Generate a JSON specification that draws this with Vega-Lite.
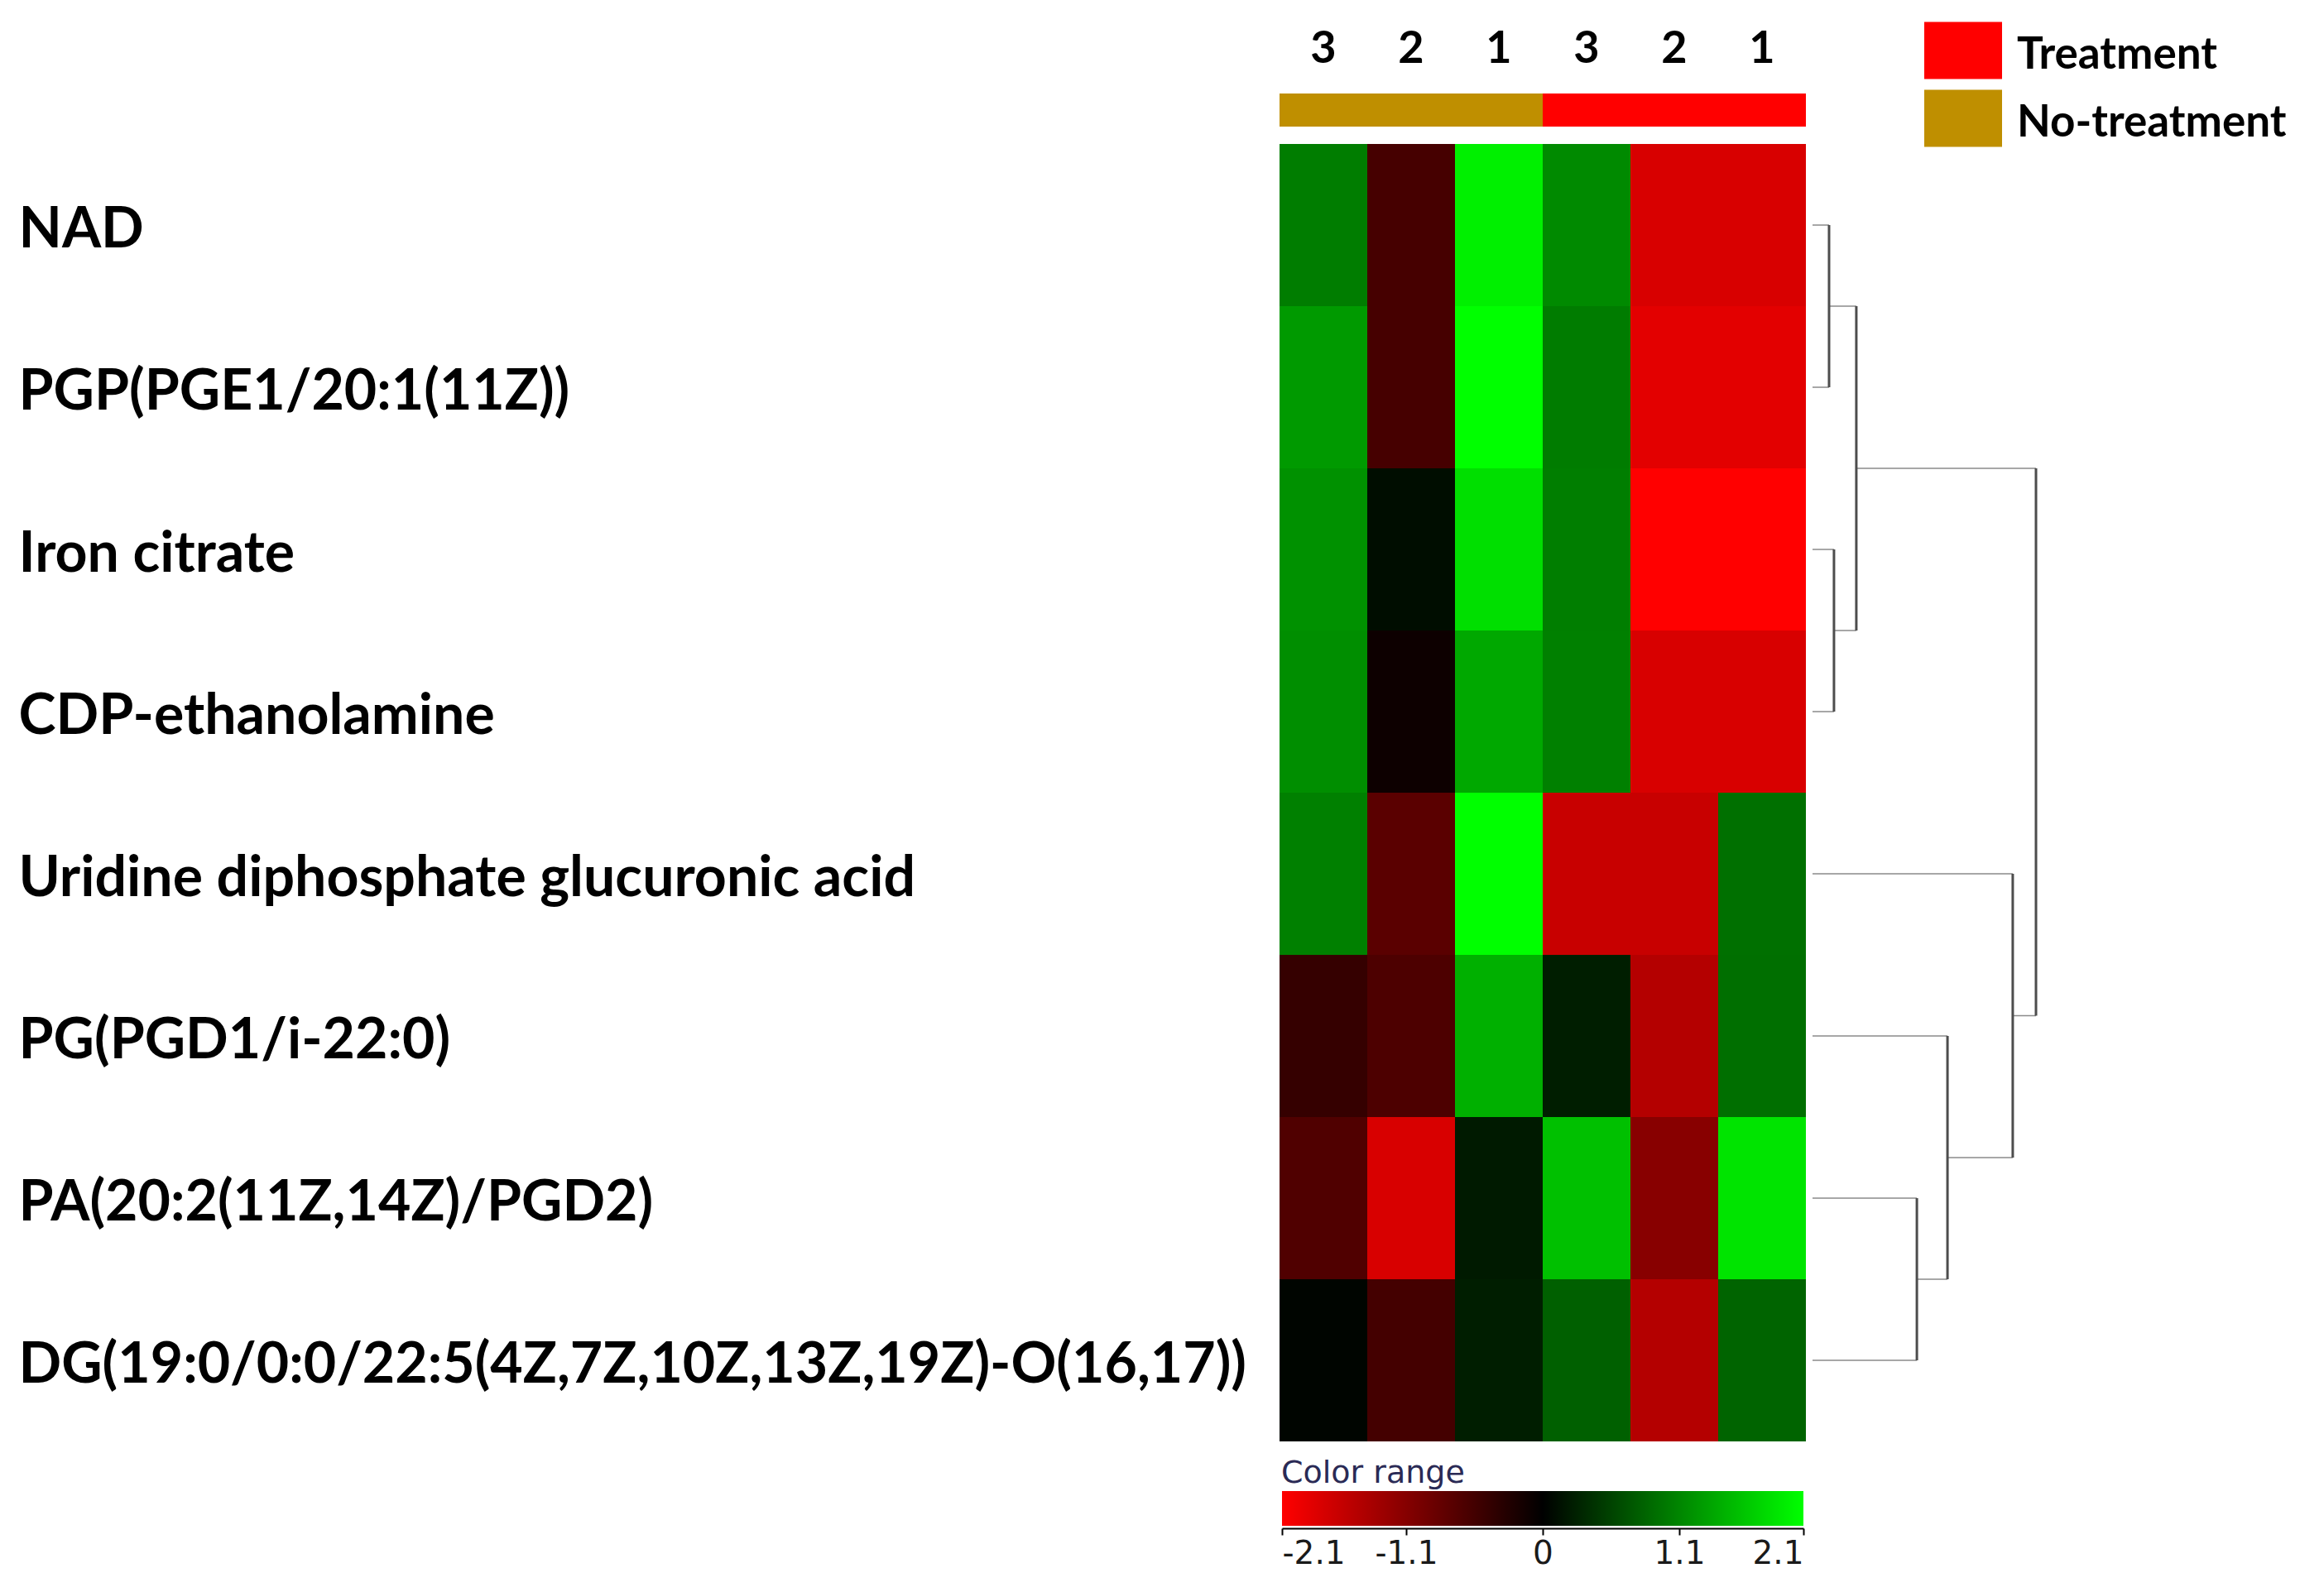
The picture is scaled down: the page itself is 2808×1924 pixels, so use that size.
{
  "$schema": "https://vega.github.io/schema/vega-lite/v6.json",
  "background": "white",
  "padding": {"left": 22, "top": 14, "right": 0, "bottom": 0},
  "config": {"view": {"stroke": null}, "font": "Lato"},
  "datasets": {
    "samples": [
      {"sample": "N3", "group": "No-treatment"},
      {"sample": "N2", "group": "No-treatment"},
      {"sample": "N1", "group": "No-treatment"},
      {"sample": "T3", "group": "Treatment"},
      {"sample": "T2", "group": "Treatment"},
      {"sample": "T1", "group": "Treatment"}
    ],
    "cells": [
      {"metabolite": "NAD", "sample": "N3", "value": 1.03},
      {"metabolite": "NAD", "sample": "N2", "value": -0.58},
      {"metabolite": "NAD", "sample": "N1", "value": 1.98},
      {"metabolite": "NAD", "sample": "T3", "value": 1.14},
      {"metabolite": "NAD", "sample": "T2", "value": -1.78},
      {"metabolite": "NAD", "sample": "T1", "value": -1.78},
      {"metabolite": "PGP(PGE1/20:1(11Z))", "sample": "N3", "value": 1.27},
      {"metabolite": "PGP(PGE1/20:1(11Z))", "sample": "N2", "value": -0.58},
      {"metabolite": "PGP(PGE1/20:1(11Z))", "sample": "N1", "value": 2.1},
      {"metabolite": "PGP(PGE1/20:1(11Z))", "sample": "T3", "value": 1.02},
      {"metabolite": "PGP(PGE1/20:1(11Z))", "sample": "T2", "value": -1.87},
      {"metabolite": "PGP(PGE1/20:1(11Z))", "sample": "T1", "value": -1.87},
      {"metabolite": "Iron citrate", "sample": "N3", "value": 1.19},
      {"metabolite": "Iron citrate", "sample": "N2", "value": 0.11},
      {"metabolite": "Iron citrate", "sample": "N1", "value": 1.84},
      {"metabolite": "Iron citrate", "sample": "T3", "value": 1.04},
      {"metabolite": "Iron citrate", "sample": "T2", "value": -2.1},
      {"metabolite": "Iron citrate", "sample": "T1", "value": -2.1},
      {"metabolite": "CDP-ethanolamine", "sample": "N3", "value": 1.17},
      {"metabolite": "CDP-ethanolamine", "sample": "N2", "value": -0.11},
      {"metabolite": "CDP-ethanolamine", "sample": "N1", "value": 1.38},
      {"metabolite": "CDP-ethanolamine", "sample": "T3", "value": 1.05},
      {"metabolite": "CDP-ethanolamine", "sample": "T2", "value": -1.78},
      {"metabolite": "CDP-ethanolamine", "sample": "T1", "value": -1.78},
      {"metabolite": "Uridine diphosphate glucuronic acid", "sample": "N3", "value": 1.05},
      {"metabolite": "Uridine diphosphate glucuronic acid", "sample": "N2", "value": -0.74},
      {"metabolite": "Uridine diphosphate glucuronic acid", "sample": "N1", "value": 2.1},
      {"metabolite": "Uridine diphosphate glucuronic acid", "sample": "T3", "value": -1.65},
      {"metabolite": "Uridine diphosphate glucuronic acid", "sample": "T2", "value": -1.65},
      {"metabolite": "Uridine diphosphate glucuronic acid", "sample": "T1", "value": 0.92},
      {"metabolite": "PG(PGD1/i-22:0)", "sample": "N3", "value": -0.44},
      {"metabolite": "PG(PGD1/i-22:0)", "sample": "N2", "value": -0.63},
      {"metabolite": "PG(PGD1/i-22:0)", "sample": "N1", "value": 1.45},
      {"metabolite": "PG(PGD1/i-22:0)", "sample": "T3", "value": 0.25},
      {"metabolite": "PG(PGD1/i-22:0)", "sample": "T2", "value": -1.48},
      {"metabolite": "PG(PGD1/i-22:0)", "sample": "T1", "value": 0.91},
      {"metabolite": "PA(20:2(11Z,14Z)/PGD2)", "sample": "N3", "value": -0.66},
      {"metabolite": "PA(20:2(11Z,14Z)/PGD2)", "sample": "N2", "value": -1.78},
      {"metabolite": "PA(20:2(11Z,14Z)/PGD2)", "sample": "N1", "value": 0.21},
      {"metabolite": "PA(20:2(11Z,14Z)/PGD2)", "sample": "T3", "value": 1.58},
      {"metabolite": "PA(20:2(11Z,14Z)/PGD2)", "sample": "T2", "value": -1.12},
      {"metabolite": "PA(20:2(11Z,14Z)/PGD2)", "sample": "T1", "value": 1.88},
      {"metabolite": "DG(19:0/0:0/22:5(4Z,7Z,10Z,13Z,19Z)-O(16,17))", "sample": "N3", "value": 0.04},
      {"metabolite": "DG(19:0/0:0/22:5(4Z,7Z,10Z,13Z,19Z)-O(16,17))", "sample": "N2", "value": -0.56},
      {"metabolite": "DG(19:0/0:0/22:5(4Z,7Z,10Z,13Z,19Z)-O(16,17))", "sample": "N1", "value": 0.25},
      {"metabolite": "DG(19:0/0:0/22:5(4Z,7Z,10Z,13Z,19Z)-O(16,17))", "sample": "T3", "value": 0.79},
      {"metabolite": "DG(19:0/0:0/22:5(4Z,7Z,10Z,13Z,19Z)-O(16,17))", "sample": "T2", "value": -1.48},
      {"metabolite": "DG(19:0/0:0/22:5(4Z,7Z,10Z,13Z,19Z)-O(16,17))", "sample": "T1", "value": 0.82}
    ],
    "dendro": [
      {"kind": "h", "x0": 0, "x1": 0.74, "y0": 1, "y1": 1},
      {"kind": "h", "x0": 0, "x1": 0.74, "y0": 2, "y1": 2},
      {"kind": "h", "x0": 0, "x1": 0.96, "y0": 3, "y1": 3},
      {"kind": "h", "x0": 0, "x1": 0.96, "y0": 4, "y1": 4},
      {"kind": "h", "x0": 0.74, "x1": 1.96, "y0": 1.5, "y1": 1.5},
      {"kind": "h", "x0": 0.96, "x1": 1.96, "y0": 3.5, "y1": 3.5},
      {"kind": "h", "x0": 1.96, "x1": 10, "y0": 2.5, "y1": 2.5},
      {"kind": "h", "x0": 0, "x1": 8.96, "y0": 5, "y1": 5},
      {"kind": "h", "x0": 0, "x1": 6.04, "y0": 6, "y1": 6},
      {"kind": "h", "x0": 0, "x1": 4.67, "y0": 7, "y1": 7},
      {"kind": "h", "x0": 0, "x1": 4.67, "y0": 8, "y1": 8},
      {"kind": "h", "x0": 4.67, "x1": 6.04, "y0": 7.5, "y1": 7.5},
      {"kind": "h", "x0": 6.04, "x1": 8.96, "y0": 6.75, "y1": 6.75},
      {"kind": "h", "x0": 8.96, "x1": 10, "y0": 5.875, "y1": 5.875},
      {"kind": "v", "x0": 0.74, "x1": 0.74, "y0": 1, "y1": 2},
      {"kind": "v", "x0": 0.96, "x1": 0.96, "y0": 3, "y1": 4},
      {"kind": "v", "x0": 1.96, "x1": 1.96, "y0": 1.5, "y1": 3.5},
      {"kind": "v", "x0": 4.67, "x1": 4.67, "y0": 7, "y1": 8},
      {"kind": "v", "x0": 6.04, "x1": 6.04, "y0": 6, "y1": 7.5},
      {"kind": "v", "x0": 8.96, "x1": 8.96, "y0": 5, "y1": 6.75},
      {"kind": "v", "x0": 10, "x1": 10, "y0": 2.5, "y1": 5.875}
    ],
    "range": [{"lo": -2.1, "hi": 2.1}]
  },
  "spacing": 20,
  "resolve": {"scale": {"x": "independent", "y": "independent"}},
  "vconcat": [
    {
      "spacing": 21,
      "resolve": {"scale": {"x": "independent", "y": "independent"}},
      "vconcat": [
        {
          "data": {"name": "samples"},
          "width": 636,
          "height": 40,
          "mark": {"type": "rect"},
          "encoding": {
            "x": {
              "field": "sample", "type": "nominal",
              "sort": ["N3", "N2", "N1", "T3", "T2", "T1"],
              "scale": {"paddingInner": 0, "paddingOuter": 0},
              "axis": {"orient": "top", "title": null, "domain": false, "ticks": false, "tickSize": 0, "labelAngle": 0,
                "labelExpr": "substring(datum.value, 1)", "labelFont": "Lato", "labelFontSize": 54, "labelFontWeight": "bold",
                "labelColor": "#000000", "labelPadding": 38, "labelBaseline": "alphabetic"}
            },
            "color": {
              "field": "group", "type": "nominal",
              "scale": {"domain": ["Treatment", "No-treatment"], "range": ["#ff0000", "#bf8f00"]},
              "legend": {"orient": "none", "legendX": 779, "legendY": -99, "title": null,
                "symbolType": "M-1,-0.734H1V0.734H-1Z", "symbolSize": 8836, "symbolStrokeWidth": 0,
                "labelFont": "Lato", "labelFontSize": 53, "labelFontWeight": "bold", "labelColor": "#000000",
                "labelOffset": 18, "rowPadding": -14, "padding": 0, "labelLimit": 0,
                "encode": {"labels": {"update": {"dy": {"value": 6}}}}}
            }
          }
        },
        {
          "spacing": 7,
          "resolve": {"scale": {"x": "independent", "y": "independent"}},
          "hconcat": [
            {
              "data": {"name": "cells"},
              "width": 636,
              "height": 1568,
              "mark": {"type": "rect"},
              "encoding": {
                "x": {"field": "sample", "type": "nominal", "sort": ["N3", "N2", "N1", "T3", "T2", "T1"],
                  "scale": {"paddingInner": 0, "paddingOuter": 0}, "axis": null},
                "y": {"field": "metabolite", "type": "nominal",
                  "sort": ["NAD", "PGP(PGE1/20:1(11Z))", "Iron citrate", "CDP-ethanolamine", "Uridine diphosphate glucuronic acid", "PG(PGD1/i-22:0)", "PA(20:2(11Z,14Z)/PGD2)", "DG(19:0/0:0/22:5(4Z,7Z,10Z,13Z,19Z)-O(16,17))"],
                  "scale": {"paddingInner": 0, "paddingOuter": 0},
                  "axis": {"title": null, "domain": false, "ticks": false, "tickSize": 0, "labelAlign": "left",
                    "labelPadding": 1524, "labelFont": "Lato", "labelFontSize": 68, "labelFontWeight": "bold",
                    "labelColor": "#000000", "labelLimit": 0, "labelBaseline": "middle", "labelOffset": 7}},
                "fill": {"field": "value", "type": "quantitative",
                  "scale": {"domain": [-2.1, 0, 2.1], "range": ["#ff0000", "#000000", "#00ff00"], "interpolate": "rgb", "clamp": true},
                  "legend": null}
              }
            },
            {
              "data": {"name": "dendro"},
              "width": 270,
              "height": 1568,
              "encoding": {
                "x": {"field": "x0", "type": "quantitative", "scale": {"domain": [0, 10], "nice": false, "zero": false}, "axis": null},
                "x2": {"field": "x1"},
                "y": {"field": "y0", "type": "quantitative", "scale": {"domain": [0.5, 8.5], "reverse": true, "nice": false, "zero": false}, "axis": null},
                "y2": {"field": "y1"}
              },
              "layer": [
                {"transform": [{"filter": "datum.kind === 'h'"}], "mark": {"type": "rule", "color": "#8a8a8a", "strokeWidth": 1.5}},
                {"transform": [{"filter": "datum.kind === 'v'"}], "mark": {"type": "rule", "color": "#4d4d4d", "strokeWidth": 3}}
              ]
            }
          ]
        }
      ]
    },
    {
      "data": {"name": "range"},
      "width": 636,
      "height": 42,
      "title": {"text": "Color range", "anchor": "start", "font": "DejaVu Sans", "fontSize": 38, "fontWeight": "normal",
        "color": "#2a2a55", "baseline": "top", "offset": 2, "dx": 2},
      "mark": {"type": "rect", "fill": {"gradient": "linear", "x1": 0, "y1": 0, "x2": 1, "y2": 0,
        "stops": [{"offset": 0, "color": "#ff0000"}, {"offset": 0.5, "color": "#000000"}, {"offset": 1, "color": "#00ff00"}]}},
      "encoding": {
        "x": {"field": "lo", "type": "quantitative",
          "scale": {"domain": [-2.1, 2.1], "range": [3, 633], "nice": false, "zero": false},
          "axis": {"title": null, "values": [-2.1, -1.1, 0, 1.1, 2.1], "labelFlush": true, "grid": false,
            "domain": true, "domainColor": "#000000", "domainWidth": 2, "ticks": true, "tickColor": "#000000",
            "tickWidth": 2, "tickSize": 8, "offset": 3, "labelFont": "DejaVu Sans", "labelFontSize": 39,
            "labelColor": "#1a1a1a", "labelPadding": 3,
            "labelExpr": "replace(format(datum.value, '.1~f'), '\u2212', '-')"}},
        "x2": {"field": "hi"}
      }
    }
  ]
}
